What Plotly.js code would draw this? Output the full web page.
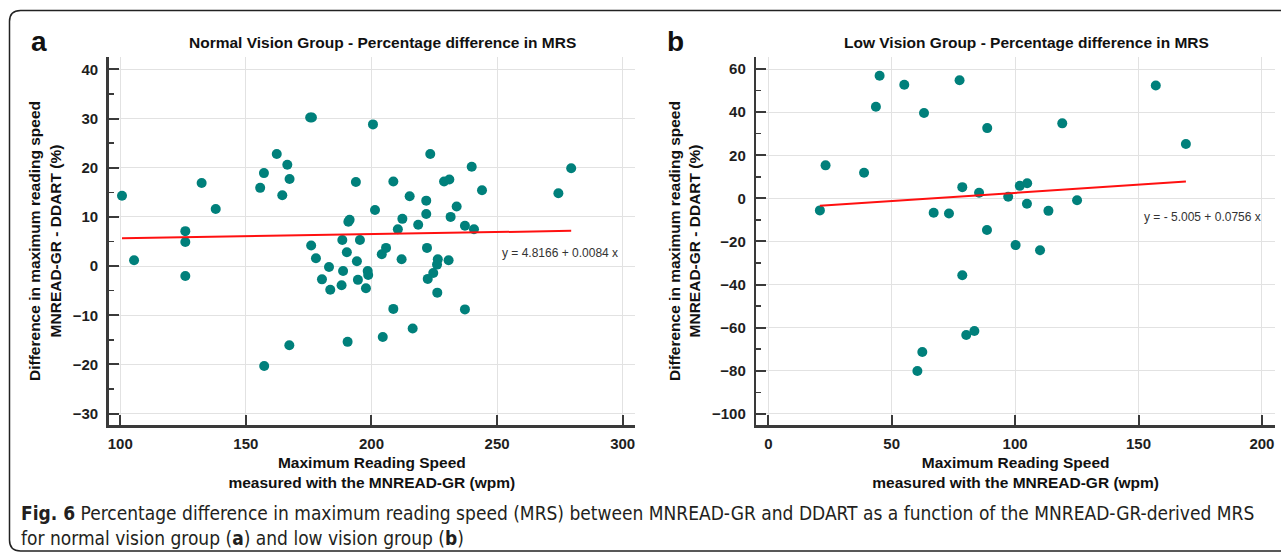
<!DOCTYPE html>
<html>
<head>
<meta charset="utf-8">
<script src="https://cdn.plot.ly/plotly-3.0.1.min.js"></script>
<style>
  html, body { margin: 0; padding: 0; background: #ffffff; }
  #chart { width: 1281px; height: 559px; }
</style>
</head>
<body>
<div id="chart"></div>
<script>
// ---------------- DATA ----------------
// Panel a: Normal Vision Group
const normalMRS = [100.7, 105.5, 125.9, 125.9, 125.9, 132.4, 138.0, 155.7, 157.2, 157.3,
  162.3, 164.5, 166.5, 167.4, 167.3, 175.6, 176.3, 176.0, 177.9, 180.3,
  183.1, 183.6, 188.4, 188.7, 188.1, 190.2, 190.8, 191.3, 190.5, 193.8,
  195.4, 194.2, 194.6, 197.8, 198.5, 198.7, 200.6, 201.4, 204.1, 205.8,
  204.5, 208.7, 208.7, 210.5, 212.3, 212.0, 215.2, 216.4, 218.6, 221.8,
  221.8, 222.1, 222.4, 223.4, 224.6, 226.4, 226.1, 226.2, 228.9, 231.0,
  230.7, 231.5, 233.9, 237.2, 237.2, 239.9, 240.8, 244.0, 274.4, 279.5];
const normalDiff = [14.3, 1.2, 7.1, 4.9, -2.0, 16.9, 11.6, 15.9, 18.9, -20.3,
  22.8, 14.4, 20.6, 17.7, -16.1, 30.2, 30.2, 4.2, 1.6, -2.7,
  -0.2, -4.8, 5.3, -1.0, -3.9, 2.8, 9.0, 9.4, -15.4, 17.1,
  5.3, 1.0, -2.8, -4.5, -1.0, -1.8, 28.8, 11.4, 2.4, 3.7,
  -14.4, 17.2, -8.7, 7.5, 9.6, 1.4, 14.2, -12.7, 8.4, 13.3,
  10.6, 3.7, -2.6, 22.8, -1.4, 1.4, 0.3, -5.4, 17.2, 17.6,
  1.2, 10.0, 12.1, 8.2, -8.8, 20.2, 7.5, 15.4, 14.8, 19.9];
const normalFitX = [100.7, 279.5];
const normalFitY = [5.66, 7.16];
const normalEquation = "y = 4.8166 + 0.0084 x";

// Panel b: Low Vision Group
const lowMRS = [20.9, 23.2, 38.8, 43.6, 45.1, 55.1, 60.4, 62.4, 63.1, 67.0,
  73.2, 77.5, 78.6, 78.6, 80.2, 83.5, 85.4, 88.7, 88.6, 97.2,
  100.2, 101.9, 104.9, 104.8, 110.1, 113.5, 119.1, 125.1, 157.0, 169.2];
const lowDiff = [-5.6, 15.3, 11.9, 42.5, 56.9, 52.7, -80.1, -71.3, 39.6, -6.7,
  -7.0, 54.8, 5.2, -35.7, -63.4, -61.6, 2.6, 32.6, -14.7, 0.7,
  -21.7, 5.8, 7.0, -2.5, -24.1, -5.8, 34.8, -0.9, 52.4, 25.2];
const lowFitX = [20.9, 169.2];
const lowFitY = [-3.42, 7.79];
const lowEquation = "y = - 5.005 + 0.0756 x";

// Text
const panelTitles = ["Normal Vision Group - Percentage difference in MRS",
                     "Low Vision Group - Percentage difference in MRS"];
const panelLetters = ["a", "b"];
const yTitle = "Difference in maximum reading speed<br>MNREAD-GR - DDART (%)";
const xTitle = "Maximum Reading Speed<br>measured with the MNREAD-GR (wpm)";
const captionBold = "Fig. 6";
const captionText = " Percentage difference in maximum reading speed (MRS) between MNREAD-GR and DDART as a function of the MNREAD-GR-derived MRS<br>for normal vision group (<b>a</b>) and low vision group (<b>b</b>)";

// ---------------- LAYOUT HELPERS ----------------
const W = 1281, H = 559;
const px = v => v / W;          // pixel x -> paper
const py = v => 1 - v / H;      // pixel y -> paper

const TEAL = '#00807b';
const RED = '#ff1010';
const AX = '#3a3a3a';
const GRID = '#e2e2e2';
const FONT = 'Liberation Sans, Arial, sans-serif';

function scatter(x, y, xa, ya) {
  return { type: 'scatter', mode: 'markers', x: x, y: y, xaxis: xa, yaxis: ya,
    marker: { color: TEAL, size: 10, line: { width: 0 } }, hoverinfo: 'x+y', showlegend: false };
}
function fit(x, y, xa, ya) {
  return { type: 'scatter', mode: 'lines', x: x, y: y, xaxis: xa, yaxis: ya,
    line: { color: RED, width: 2 }, hoverinfo: 'skip', showlegend: false };
}

const tickFont = { family: FONT, size: 15, color: '#1e1e1e', weight: 'bold' };
const titleFont = { family: FONT, size: 15.5, color: '#111', weight: 'bold' };

function xAxis(domain, range, anchor) {
  return {
    domain: domain, range: range, anchor: anchor,
    tick0: 0, dtick: 50,
    showgrid: true, gridcolor: GRID, gridwidth: 1,
    zeroline: false,
    showline: true, linecolor: AX, linewidth: 2.5,
    ticks: 'inside', ticklen: 10, tickwidth: 2, tickcolor: AX,
    tickfont: tickFont, ticklabelstandoff: 3,
    title: { text: xTitle, font: titleFont, standoff: 7 },
    automargin: false, fixedrange: true
  };
}
function yAxis(domain, range, anchor, dtick, minorDtick) {
  return {
    domain: domain, range: range, anchor: anchor,
    tick0: 0, dtick: dtick,
    showgrid: true, gridcolor: GRID, gridwidth: 1,
    zeroline: false,
    showline: true, linecolor: AX, linewidth: 2.5,
    ticks: 'inside', ticklen: 10, tickwidth: 2, tickcolor: AX,
    minor: { ticks: 'inside', ticklen: 5, tickwidth: 1.5, tickcolor: AX, dtick: minorDtick, showgrid: false },
    tickfont: tickFont, ticklabelstandoff: 5,
    title: { text: yTitle, font: titleFont, standoff: 8 },
    automargin: false, fixedrange: true
  };
}

const data = [
  scatter(normalMRS, normalDiff, 'x', 'y'),
  fit(normalFitX, normalFitY, 'x', 'y'),
  scatter(lowMRS, lowDiff, 'x2', 'y2'),
  fit(lowFitX, lowFitY, 'x2', 'y2')
];

const r = 11; // frame corner radius in px
const fx0 = 9.5, fy0 = 10.5, fx1 = 1300, fy1 = 551;
const framePath =
  `M ${px(fx1)} ${py(fy0)} ` +
  `L ${px(fx0 + r)} ${py(fy0)} ` +
  `Q ${px(fx0)} ${py(fy0)} ${px(fx0)} ${py(fy0 + r)} ` +
  `L ${px(fx0)} ${py(fy1 - r)} ` +
  `Q ${px(fx0)} ${py(fy1)} ${px(fx0 + r)} ${py(fy1)} ` +
  `L ${px(fx1)} ${py(fy1)}`;

const layout = {
  width: W, height: H,
  margin: { l: 0, r: 0, t: 0, b: 0, pad: 0 },
  paper_bgcolor: '#ffffff', plot_bgcolor: '#ffffff',
  font: { family: FONT, color: '#111' },
  showlegend: false,
  xaxis: xAxis([px(108.7), px(635)], [95.4, 304.9], 'y'),
  yaxis: yAxis([py(425), py(57)], [-32.3, 42.5], 'x', 10, 5),
  xaxis2: xAxis([px(756.3), px(1275)], [-4.86, 205.3], 'y2'),
  yaxis2: yAxis([py(425), py(57)], [-105.2, 65.6], 'x2', 20, 10),
  shapes: [
    { type: 'path', xref: 'paper', yref: 'paper', path: framePath,
      line: { color: '#222', width: 1.5 }, fillcolor: 'rgba(0,0,0,0)', layer: 'below' }
  ],
  annotations: [
    { text: panelTitles[0], xref: 'paper', yref: 'paper', x: px(382), y: py(43),
      xanchor: 'center', yanchor: 'middle', showarrow: false, font: titleFont },
    { text: panelTitles[1], xref: 'paper', yref: 'paper', x: px(1026), y: py(43),
      xanchor: 'center', yanchor: 'middle', showarrow: false, font: titleFont },
    { text: panelLetters[0], xref: 'paper', yref: 'paper', x: px(29), y: py(41),
      xanchor: 'left', yanchor: 'middle', showarrow: false,
      font: { family: FONT, size: 28, color: '#111', weight: 'bold' } },
    { text: panelLetters[1], xref: 'paper', yref: 'paper', x: px(665), y: py(41),
      xanchor: 'left', yanchor: 'middle', showarrow: false,
      font: { family: FONT, size: 28, color: '#111', weight: 'bold' } },
    { text: normalEquation, xref: 'x', yref: 'y', x: 251.2, y: 2.7,
      xanchor: 'left', yanchor: 'middle', showarrow: false,
      font: { family: FONT, size: 12, color: '#333' } },
    { text: lowEquation, xref: 'x2', yref: 'y2', x: 151.3, y: -8.5,
      xanchor: 'left', yanchor: 'middle', showarrow: false,
      font: { family: FONT, size: 12, color: '#333' } },
    { text: '<b>' + captionBold + '</b>' + captionText, xref: 'paper', yref: 'paper',
      x: px(19), y: py(525), xanchor: 'left', yanchor: 'middle', align: 'left',
      showarrow: false,
      font: { family: 'Liberation Sans Narrow, DejaVu Sans Condensed, Arial Narrow, sans-serif', size: 19, color: '#231f20' } }
  ]
};

Plotly.newPlot('chart', data, layout, { displayModeBar: false, staticPlot: true });
</script>
</body>
</html>
